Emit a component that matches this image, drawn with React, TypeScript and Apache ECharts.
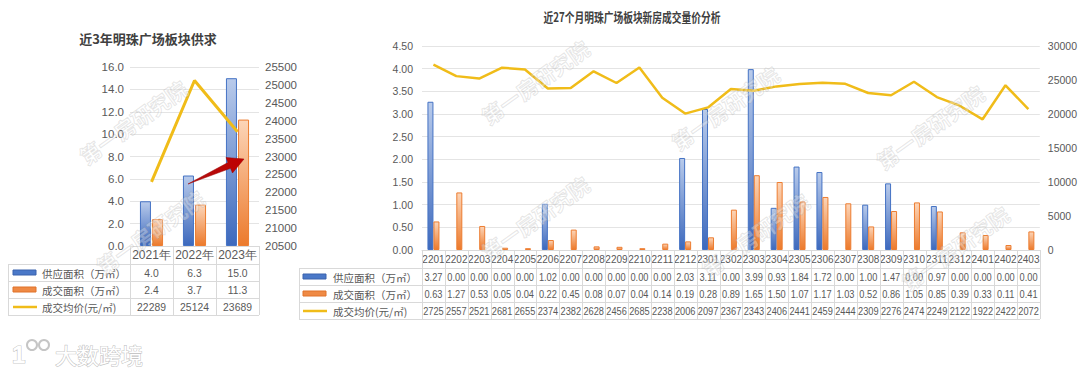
import React, { useEffect, useRef } from "react";
import * as echarts from "echarts";

const leftCats = ["2021年", "2022年", "2023年"];
const leftSupply = [4.0, 6.3, 15.0];
const leftDeal = [2.4, 3.7, 11.3];
const leftPrice = [22289, 25124, 23689];

const rightCats = [
  "2201", "2202", "2203", "2204", "2205", "2206", "2207", "2208", "2209", "2210", "2211", "2212",
  "2301", "2302", "2303", "2304", "2305", "2306", "2307", "2308", "2309", "2310", "2311", "2312",
  "2401", "2402", "2403",
];
const rightSupply = [
  3.27, 0, 0, 0, 0, 1.02, 0, 0, 0, 0, 0, 2.03,
  3.11, 0, 3.99, 0.93, 1.84, 1.72, 0, 1.0, 1.47, 0, 0.97, 0,
  0, 0, 0,
];
const rightDeal = [
  0.63, 1.27, 0.53, 0.05, 0.04, 0.22, 0.45, 0.08, 0.07, 0.04, 0.14, 0.19,
  0.28, 0.89, 1.65, 1.5, 1.07, 1.17, 1.03, 0.52, 0.86, 1.05, 0.85, 0.39,
  0.33, 0.11, 0.41,
];
const rightPrice = [
  27250, 25570, 25210, 26810, 26550, 23740, 23820, 26280, 24560, 26850, 22380, 20060,
  20970, 23670, 23430, 24060, 24410, 24590, 24440, 23090, 22760, 24740, 22490, 21220,
  19220, 24220, 20720,
];

const seriesNames = ["供应面积（万㎡）", "成交面积（万㎡）", "成交均价(元/㎡)"];
const leftTitle = "近3年明珠广场板块供求";
const rightTitle = "近27个月明珠广场板块新房成交量价分析";
const watermarkText = "第一房研究院";

const CJK = '"Noto Sans CJK SC", "Noto Sans", sans-serif';
const NUM = '"Liberation Sans", Arial, sans-serif';
const GRAY = "#595959";
const BORDER = "#d9d9d9";
const LINE_COLOR = "#f0bc19";

const blueGrad = () =>
  new echarts.graphic.LinearGradient(0, 0, 0, 1, [
    { offset: 0, color: "#b9cbeb" },
    { offset: 1, color: "#3d69bd" },
  ]);
const orangeGrad = () =>
  new echarts.graphic.LinearGradient(0, 0, 0, 1, [
    { offset: 0, color: "#fcd5b8" },
    { offset: 1, color: "#ec7a2c" },
  ]);

// layout
const L = { left: 130, top: 67, width: 129, height: 179, tableLeft: 8, rowTop: 264, rowH: 17 };
const R = { left: 422, top: 46, width: 618, height: 204, tableLeft: 299, rowTop: 268, rowH: 17 };

function txt(x: number, y: number, text: string, o: any = {}) {
  return {
    type: "text",
    x,
    y,
    scaleX: o.scaleX ?? 1,
    z: o.z ?? 10,
    style: {
      x: 0,
      y: 0,
      text,
      fill: o.fill ?? GRAY,
      font: o.font ?? `11px ${NUM}`,
      textAlign: o.align ?? "center",
      textVerticalAlign: "middle",
      ...(o.extra || {}),
    },
  };
}
function ln(x1: number, y1: number, x2: number, y2: number) {
  return {
    type: "line",
    z: 5,
    shape: { x1, y1, x2, y2 },
    style: { stroke: BORDER, lineWidth: 1 },
  };
}

function buildTable(
  g: typeof L,
  cats: string[],
  rows: string[][],
  opts: { numFont: string; numScale: number; iconX: number; textX: number; labelFont: string }
) {
  const els: any[] = [];
  const n = cats.length;
  const cw = g.width / n;
  const axisY = g.top + g.height;
  const bottom = g.rowTop + g.rowH * 3;
  const right = g.left + g.width;
  for (let r = 0; r <= 3; r++) {
    const y = g.rowTop + r * g.rowH + 0.5;
    els.push(ln(g.tableLeft, y, right, y));
  }
  els.push(ln(g.tableLeft + 0.5, g.rowTop, g.tableLeft + 0.5, bottom));
  for (let i = 0; i <= n; i++) {
    const x = Math.round(g.left + i * cw) + 0.5;
    els.push(ln(x, axisY, x, bottom));
  }
  for (let r = 0; r < 3; r++) {
    const cy = g.rowTop + r * g.rowH + g.rowH / 2 + 0.5;
    if (r < 2) {
      els.push({
        type: "rect",
        z: 10,
        shape: { x: opts.iconX, y: cy - 3, width: 23, height: 5 },
        style: {
          fill: r === 0 ? "#4a78c8" : "#ef8a45",
          stroke: r === 0 ? "#3a62ad" : "#e0732a",
          lineWidth: 1,
        },
      });
    } else {
      els.push({
        type: "line",
        z: 10,
        shape: { x1: opts.iconX, y1: cy, x2: opts.iconX + 24, y2: cy },
        style: { stroke: LINE_COLOR, lineWidth: 2.5 },
      });
    }
    els.push(txt(opts.textX, cy, seriesNames[r], { font: opts.labelFont, align: "left" }));
    for (let i = 0; i < n; i++) {
      els.push(
        txt(g.left + (i + 0.5) * cw, cy, rows[r][i], { font: opts.numFont, scaleX: opts.numScale })
      );
    }
  }
  return els;
}

function watermark(cx: number, cy: number) {
  return {
    type: "text",
    x: cx,
    y: cy,
    rotation: 0.62,
    z: 50,
    silent: true,
    style: {
      x: 0,
      y: 0,
      text: watermarkText,
      font: `bold 21px ${CJK}`,
      fill: "rgba(255,255,255,0.3)",
      stroke: "rgba(150,150,150,0.28)",
      lineWidth: 1,
      textAlign: "center",
      textVerticalAlign: "middle",
    },
  };
}

function arrow() {
  return {
    type: "polygon",
    z: 40,
    shape: {
      points: [
        [188, 184],
        [228, 162.5],
        [226, 157.5],
        [244, 159],
        [232.5, 173],
        [230.5, 168.3],
      ],
    },
    style: {
      fill: new echarts.graphic.LinearGradient(0, 0, 1, 0, [
        { offset: 0, color: "#b01010" },
        { offset: 1, color: "#c00000" },
      ]),
      stroke: "#9a0000",
      lineWidth: 0.5,
    },
  };
}

function logo() {
  const common = { fill: "#ffffff", stroke: "rgba(150,150,150,0.55)", lineWidth: 1.2 };
  return [
    { type: "text", x: 12, y: 354, z: 60, style: { x: 0, y: 0, text: "1", font: `bold 24px ${NUM}`, textVerticalAlign: "middle", ...common } },
    { type: "circle", z: 60, shape: { cx: 32, cy: 345, r: 5 }, style: { fill: "#fff", stroke: "rgba(150,150,150,0.55)", lineWidth: 2 } },
    { type: "circle", z: 60, shape: { cx: 44, cy: 345, r: 5 }, style: { fill: "#fff", stroke: "rgba(150,150,150,0.55)", lineWidth: 2 } },
    { type: "text", x: 55, y: 354, z: 60, style: { x: 0, y: 0, text: "大数跨境", font: `22px ${CJK}`, textVerticalAlign: "middle", ...common } },
  ];
}

const hideZero = (arr: number[]) => arr.map((v) => (v === 0 ? "-" : v));

export default function App() {
  const ref = useRef<HTMLDivElement>(null);
  useEffect(() => {
    document.body.style.margin = "0";
    const chart = echarts.init(ref.current!, undefined, { renderer: "svg" });

    const leftRows = [
      leftSupply.map((v) => v.toFixed(1)),
      leftDeal.map((v) => v.toFixed(1)),
      leftPrice.map((v) => String(v)),
    ];
    const rightRows = [
      rightSupply.map((v) => v.toFixed(2)),
      rightDeal.map((v) => v.toFixed(2)),
      rightPrice.map((v) => String(v).slice(0, 4)),
    ];

    const graphic: any[] = [
      txt(148, 38, leftTitle, { font: `bold 13px ${CJK}`, fill: "#404040" }),
      txt(632, 16, rightTitle, { font: `bold 13px ${CJK}`, fill: "#404040", scaleX: 0.75 }),
      ...buildTable(L, leftCats, leftRows, {
        numFont: `11.5px ${NUM}`,
        numScale: 0.9,
        iconX: 13,
        textX: 42,
        labelFont: `10.5px ${CJK}`,
      }),
      ...buildTable(R, rightCats, rightRows, {
        numFont: `11px ${NUM}`,
        numScale: 0.84,
        iconX: 303,
        textX: 333,
        labelFont: `10.5px ${CJK}`,
      }),
      arrow(),
      watermark(133, 122),
      watermark(150, 232),
      watermark(535, 82),
      watermark(535, 218),
      watermark(725, 108),
      watermark(755, 235),
      watermark(930, 127),
      watermark(955, 248),
      ...logo(),
    ];

    const catAxis = (idx: number, data: string[], fs: number, margin: number) => ({
      type: "category",
      gridIndex: idx,
      data,
      axisLine: { lineStyle: { color: BORDER } },
      axisTick: { show: false },
      axisLabel: { color: GRAY, fontSize: fs, fontFamily: NUM, margin, interval: 0 },
    });
    const valAxis = (idx: number, min: number, max: number, interval: number, pos: string, dec: number, margin: number, split: boolean) => ({
      type: "value",
      gridIndex: idx,
      position: pos,
      min,
      max,
      interval,
      axisLine: { show: false },
      axisTick: { show: false },
      splitLine: { show: split, lineStyle: { color: "#e4e4e4" } },
      axisLabel: {
        color: GRAY,
        fontSize: idx === 0 ? 11.5 : 10.5,
        fontFamily: NUM,
        margin,
        formatter: (v: number) => v.toFixed(dec),
      },
    });

    chart.setOption({
      animation: false,
      backgroundColor: "#ffffff",
      grid: [
        { left: L.left, top: L.top, width: L.width, height: L.height },
        { left: R.left, top: R.top, width: R.width, height: R.height },
      ],
      xAxis: [catAxis(0, leftCats, 12, 3), catAxis(1, rightCats, 10, 4)],
      yAxis: [
        valAxis(0, 0, 16, 2, "left", 1, 6, true),
        valAxis(0, 20500, 25500, 500, "right", 0, 6, false),
        valAxis(1, 0, 4.5, 0.5, "left", 2, 9, true),
        valAxis(1, 0, 30000, 5000, "right", 0, 8, false),
      ],
      series: [
        {
          name: seriesNames[0], type: "bar", xAxisIndex: 0, yAxisIndex: 0, data: hideZero(leftSupply),
          barWidth: 11, barGap: "10%",
          itemStyle: { color: blueGrad(), borderColor: "#4472c4", borderWidth: 1 },
        },
        {
          name: seriesNames[1], type: "bar", xAxisIndex: 0, yAxisIndex: 0, data: hideZero(leftDeal),
          barWidth: 11, barGap: "10%",
          itemStyle: { color: orangeGrad(), borderColor: "#ed7d31", borderWidth: 1 },
        },
        {
          name: seriesNames[2], type: "line", xAxisIndex: 0, yAxisIndex: 1, data: leftPrice,
          symbol: "none", lineStyle: { color: LINE_COLOR, width: 3 }, z: 5,
        },
        {
          name: seriesNames[0], type: "bar", xAxisIndex: 1, yAxisIndex: 2, data: hideZero(rightSupply),
          barWidth: 6, barGap: "0%",
          itemStyle: { color: blueGrad(), borderColor: "#4472c4", borderWidth: 1 },
        },
        {
          name: seriesNames[1], type: "bar", xAxisIndex: 1, yAxisIndex: 2, data: hideZero(rightDeal),
          barWidth: 6, barGap: "0%",
          itemStyle: { color: orangeGrad(), borderColor: "#ed7d31", borderWidth: 1 },
        },
        {
          name: seriesNames[2], type: "line", xAxisIndex: 1, yAxisIndex: 3, data: rightPrice,
          symbol: "none", lineStyle: { color: LINE_COLOR, width: 2.5 }, z: 5,
        },
      ],
      graphic,
    });
    return () => chart.dispose();
  }, []);
  return (
    <div
      ref={ref}
      style={{ position: "absolute", left: 0, top: 0, width: 1080, height: 374, background: "#fff" }}
    />
  );
}
